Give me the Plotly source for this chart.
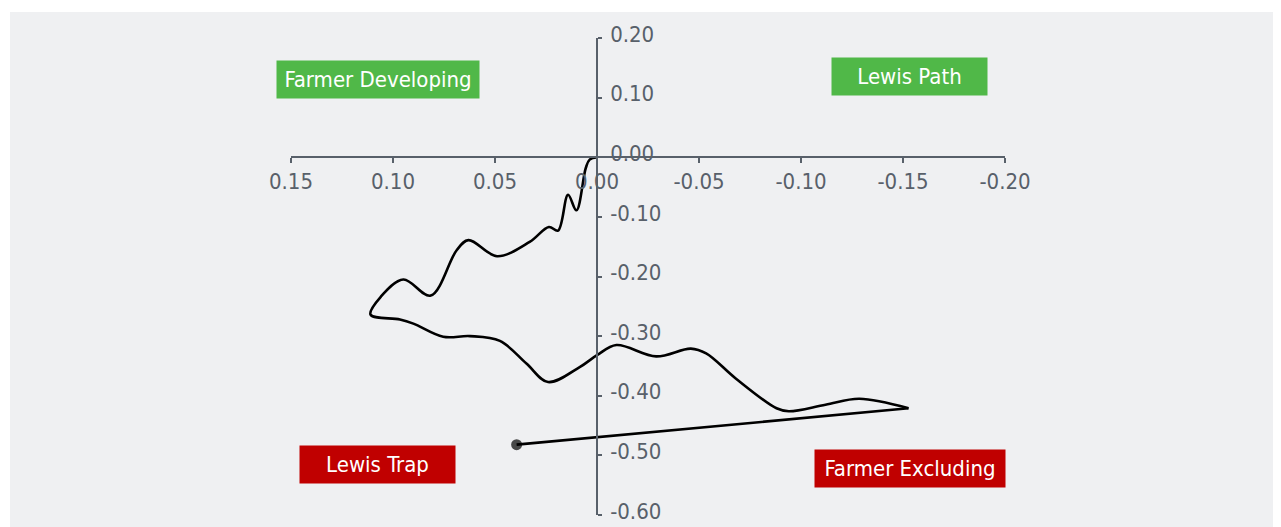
import plotly.graph_objects as go

# ---- data ----
path_x = [0.0, 0.0036, 0.0055, 0.0101, 0.0142, 0.0191, 0.0236, 0.033, 0.049, 0.063,
          0.0688, 0.0815, 0.0949, 0.106, 0.111, 0.0966, 0.090, 0.0754, 0.0623, 0.0476,
          0.0346, 0.024, 0.0085, 0.0, -0.0095, -0.029, -0.046, -0.0535, -0.068,
          -0.088, -0.094, -0.112, -0.1286, -0.1527, 0.0394]
path_y = [0.0, -0.004, -0.018, -0.089, -0.063, -0.123, -0.117, -0.142, -0.166, -0.139,
          -0.156, -0.232, -0.205, -0.234, -0.264, -0.272, -0.279, -0.301, -0.300, -0.308,
          -0.346, -0.377, -0.352, -0.332, -0.315, -0.334, -0.321, -0.329, -0.371,
          -0.421, -0.426, -0.415, -0.405, -0.421, -0.482]

x_ticks = [0.15, 0.10, 0.05, 0.0, -0.05, -0.10, -0.15, -0.20]
x_tick_labels = ["0.15", "0.10", "0.05", "0.00", "-0.05", "-0.10", "-0.15", "-0.20"]
y_ticks = [0.2, 0.1, 0.0, -0.1, -0.2, -0.3, -0.4, -0.5, -0.6]
y_tick_labels = ["0.20", "0.10", "0.00", "-0.10", "-0.20", "-0.30", "-0.40", "-0.50", "-0.60"]

quad_labels = ["Farmer Developing", "Lewis Path", "Lewis Trap", "Farmer Excluding"]
quad_x = [0.1073, -0.1532, 0.1075, -0.1535]
quad_y = [0.1296, 0.136, -0.515, -0.522]
quad_w = [202, 155, 155, 190]
quad_colors = ["#50b848", "#50b848", "#c00000", "#c00000"]

# ---- style ----
BG = "#eff0f2"
AXIS = "#58606a"
FONT = "DejaVu Sans Condensed, Liberation Sans Narrow, sans-serif"

fig = go.Figure()
fig.add_trace(go.Scatter(
    x=path_x[:-1], y=path_y[:-1], mode="lines",
    line=dict(color="black", width=2.6, shape="spline", smoothing=1.0),
    hoverinfo="skip", showlegend=False))
fig.add_trace(go.Scatter(
    x=path_x[-2:], y=path_y[-2:], mode="lines+markers",
    line=dict(color="black", width=2.6),
    marker=dict(color="black", size=[0, 11], line=dict(width=0)),
    hoverinfo="skip", showlegend=False))

for t, xx, yy, w, c in zip(quad_labels, quad_x, quad_y, quad_w, quad_colors):
    fig.add_annotation(x=xx, y=yy, xref="x", yref="y", text=t, showarrow=False,
                       bgcolor=c, width=w, height=37, borderpad=0, align="center",
                       font=dict(family=FONT, size=22, color="white"))

fig.add_shape(type="rect", xref="paper", yref="paper", x0=-0.3936, x1=1.5, y0=-0.2, y1=1.0545,
              fillcolor=BG, line=dict(width=0), layer="below")

# page body has an 8px margin: compensate so plot lands at the same page pixels
fig.update_layout(
    width=1273, height=519,
    margin=dict(l=283, r=276, t=30, b=12),
    paper_bgcolor="white", plot_bgcolor=BG,
    xaxis=dict(range=[0.15, -0.20], tickvals=x_ticks, ticktext=x_tick_labels,
               anchor="free", position=0.75, side="bottom", automargin=False,
               showline=True, linecolor=AXIS, linewidth=1.5,
               ticks="outside", ticklen=5, tickcolor=AXIS, tickwidth=1.5,
               showgrid=False, zeroline=False, ticklabelstandoff=0,
               ticklabeloverflow="allow",
               tickfont=dict(family=FONT, size=22, color=AXIS)),
    yaxis=dict(range=[-0.6, 0.2], tickvals=y_ticks, ticktext=y_tick_labels,
               anchor="free", position=0.15 / 0.35, side="right", automargin=False,
               showline=True, linecolor=AXIS, linewidth=1.5,
               ticks="outside", ticklen=4, tickcolor=AXIS, tickwidth=1.5,
               showgrid=False, zeroline=False, ticklabelstandoff=4, ticklabelshift=-4,
               ticklabeloverflow="allow",
               tickfont=dict(family=FONT, size=22, color=AXIS)),
)

fig.write_html("out.html")
